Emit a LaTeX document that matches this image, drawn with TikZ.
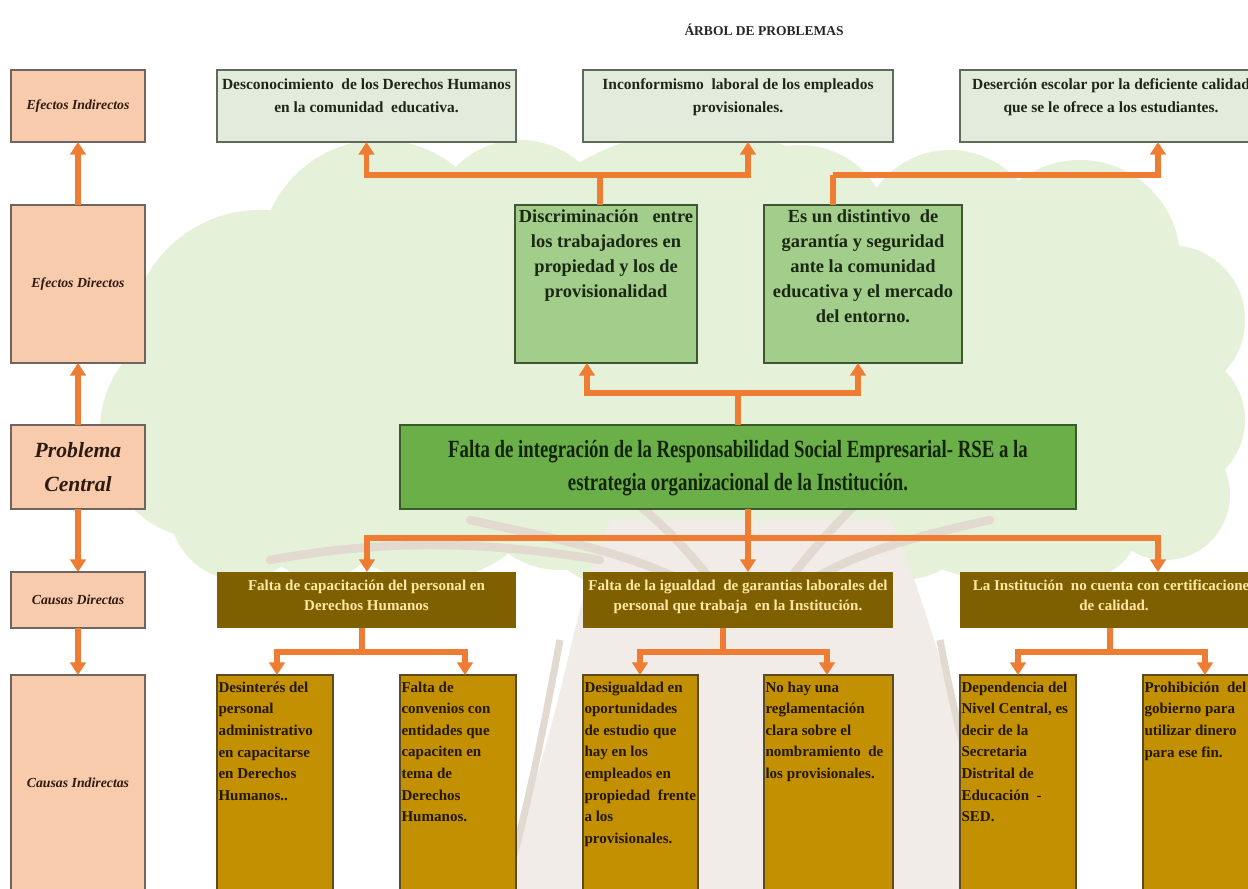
\documentclass[tikz,border=0pt]{standalone}
\usepackage{fontspec}
\setmainfont{Liberation Serif}
\newfontfamily\narrowserif[FakeStretch=0.76]{Liberation Serif}
\usetikzlibrary{arrows.meta}

% one drawing unit
\newlength\pxl
\setlength\pxl{0.025cm}
% fixed-size text cell: width, height, top padding, contents
\newcommand{\cell}[4]{\parbox[c][#2\pxl][t]{#1\pxl}{\vspace*{#3\pxl}#4}}
\newcommand{\ctrline}[1]{\makebox[\linewidth][c]{#1}}

\definecolor{sideFill}{HTML}{F8CBAD}
\definecolor{sideLine}{HTML}{6E6460}
\definecolor{sideText}{HTML}{2E1A10}
\definecolor{effFill}{HTML}{E3ECDC}
\definecolor{effLine}{HTML}{5F6A5A}
\definecolor{effText}{HTML}{1C261A}
\definecolor{dirFill}{HTML}{A3CD8A}
\definecolor{dirLine}{HTML}{3E5634}
\definecolor{dirText}{HTML}{1A2814}
\definecolor{coreFill}{HTML}{6BAF48}
\definecolor{coreLine}{HTML}{3A5A2A}
\definecolor{coreText}{HTML}{14240C}
\definecolor{causeFill}{HTML}{7F6000}
\definecolor{causeText}{HTML}{FFE8A6}
\definecolor{rootFill}{HTML}{C29000}
\definecolor{rootLine}{HTML}{5C4A20}
\definecolor{rootText}{HTML}{241800}
\definecolor{linkOrange}{HTML}{EE7D33}
\definecolor{leafA}{HTML}{E5F1D8}
\definecolor{barkA}{HTML}{F1ECE7}
\definecolor{barkB}{HTML}{E2D9D0}

\begin{document}
\begin{tikzpicture}[x=0.025cm, y=-0.025cm,
  every node/.style={inner sep=0pt, outer sep=0pt},
  sz/.style 2 args={minimum width=#1*\pxl, minimum height=#2*\pxl},
  sidebox/.style={anchor=north west, draw=sideLine, line width=0.8pt, fill=sideFill,
    text=sideText, align=center, font=\bfseries\itshape\fontsize{9.8}{12}\selectfont},
  effbox/.style={anchor=north west, draw=effLine, line width=0.9pt, fill=effFill, text=effText},
  dirbox/.style={anchor=north west, draw=dirLine, line width=0.9pt, fill=dirFill, text=dirText},
  corebox/.style={anchor=north west, draw=coreLine, line width=1pt, fill=coreFill, text=coreText},
  causebox/.style={anchor=north west, fill=causeFill, text=causeText},
  rootbox/.style={anchor=north west, draw=rootLine, line width=0.8pt, fill=rootFill, text=rootText},
  link/.style={draw=linkOrange, line width=4pt},
  linkarrow/.style={link, -{Triangle[width=11pt,length=9pt]}},
]
\useasboundingbox (0,0) rectangle (1248,888);
\clip (0,0) rectangle (1248,888);
\fill[white] (0,0) rectangle (1248,888);

% ---------- faint tree behind the boxes ----------
\fill[leafA] (260,340) circle (130) (210,430) circle (110) (240,510) circle (70)
  (380,260) circle (120) (520,230) circle (90) (660,240) circle (90)
  (800,235) circle (90) (950,240) circle (90) (1080,260) circle (100)
  (1170,320) circle (75) (1175,420) circle (70) (1165,495) circle (65)
  (700,370) circle (240) (430,450) circle (130) (1000,420) circle (160)
  (560,480) circle (90) (900,490) circle (90) (320,520) circle (60)
  (1080,520) circle (60);
\fill[barkA] (610,520) .. controls (570,600) and (560,760) .. (490,890)
  -- (1030,890) .. controls (960,760) and (930,600) .. (890,520) -- cycle;
\draw[barkB, line width=6pt, line cap=round]
  (740,620) .. controls (680,560) and (560,540) .. (470,520)
  (740,620) .. controls (700,560) and (660,520) .. (620,490)
  (760,620) .. controls (820,560) and (900,540) .. (990,520)
  (760,620) .. controls (800,560) and (840,520) .. (870,490)
  (600,560) .. controls (480,540) and (380,540) .. (270,560);
\draw[barkB, line width=5pt]
  (560,640) .. controls (545,720) and (530,800) .. (505,888)
  (940,640) .. controls (955,720) and (975,800) .. (1010,888);

% ---------- title ----------
\node[font=\bfseries\fontsize{9.6}{11}\selectfont, text=black!85] (title) at (764,30)
  {ÁRBOL DE PROBLEMAS};

% ---------- level labels ----------
\node[sidebox, sz={134}{72}]  (ei) at (11,70)  {Efectos Indirectos};
\node[sidebox, sz={134}{158}] (ed) at (11,205) {Efectos Directos};
\node[sidebox, sz={134}{84}, font=\bfseries\itshape\fontsize{15.4}{24}\selectfont]
  (pc) at (11,425) {Problema\\Central};
\node[sidebox, sz={134}{56}]  (cd) at (11,572) {Causas Directas};
\node[sidebox, sz={134}{216}] (ci) at (11,675) {Causas Indirectas};

\draw[linkarrow] (ed.north) -- (ei.south);
\draw[linkarrow] (pc.north) -- (ed.south);
\draw[linkarrow] (pc.south) -- (cd.north);
\draw[linkarrow] (cd.south) -- (ci.north);

% ---------- indirect effects ----------
\node[effbox] (e1) at (217,70) {\cell{299}{72}{9}{\fontsize{11}{16.4}\selectfont\bfseries
  \ctrline{Desconocimiento\ \ de los Derechos Humanos}\\
  \ctrline{en la comunidad\ \ educativa.}}};
\node[effbox] (e2) at (583,70) {\cell{310}{72}{9}{\fontsize{11}{16.4}\selectfont\bfseries
  \ctrline{Inconformismo\ \ laboral de los empleados}\\
  \ctrline{provisionales.}}};
\node[effbox] (e3) at (960,70) {\cell{302}{72}{9}{\fontsize{11}{16.4}\selectfont\bfseries
  \ctrline{Deserción escolar por la deficiente calidad}\\
  \ctrline{que se le ofrece a los estudiantes.}}};

% ---------- direct effects ----------
\node[dirbox] (d1) at (515,205) {\cell{182}{158}{5}{\fontsize{13.1}{17.8}\selectfont\bfseries
  \ctrline{Discriminación\ \ \ entre}\\
  \ctrline{los trabajadores en}\\
  \ctrline{propiedad y los de}\\
  \ctrline{provisionalidad}}};
\node[dirbox] (d2) at (764,205) {\cell{198}{158}{5}{\fontsize{13.1}{17.8}\selectfont\bfseries
  \ctrline{Es un distintivo\ \ de}\\
  \ctrline{garantía y seguridad}\\
  \ctrline{ante la comunidad}\\
  \ctrline{educativa y el mercado}\\
  \ctrline{del entorno.}}};

% ---------- central problem ----------
\node[corebox] (core) at (400,425) {\cell{676}{84}{15}{\narrowserif\bfseries\fontsize{17.6}{24}\selectfont
  \ctrline{Falta de integración de la Responsabilidad Social Empresarial- RSE a la}\\
  \ctrline{estrategia organizacional de la Institución.}}};

% ---------- direct causes ----------
\node[causebox] (c1) at (217,572) {\cell{299}{56}{8}{\fontsize{10.7}{14.2}\selectfont\bfseries
  \ctrline{Falta de capacitación del personal en}\\
  \ctrline{Derechos Humanos}}};
\node[causebox] (c2) at (583,572) {\cell{310}{56}{8}{\fontsize{10.7}{14.2}\selectfont\bfseries
  \ctrline{Falta de la igualdad\ \ de garantias laborales del}\\
  \ctrline{personal que trabaja\ \ en la Institución.}}};
\node[causebox] (c3) at (960,572) {\cell{308}{56}{8}{\fontsize{10.7}{14.2}\selectfont\bfseries
  \ctrline{La Institución\ \ no cuenta con certificaciones}\\
  \ctrline{de calidad.}}};

% ---------- indirect causes ----------
\newcommand{\rootstyle}{\fontsize{10.7}{15.3}\selectfont\bfseries\raggedright\leftskip=1.5\pxl}
\node[rootbox] (i1) at (217,675) {\cell{116}{216}{7}{\rootstyle
  Desinterés del\\ personal\\ administrativo\\ en capacitarse\\ en Derechos\\ Humanos..}};
\node[rootbox] (i2) at (400,675) {\cell{116}{216}{7}{\rootstyle
  Falta de\\ convenios con\\ entidades que\\ capaciten en\\ tema de\\ Derechos\\ Humanos.}};
\node[rootbox] (i3) at (583,675) {\cell{115}{216}{7}{\rootstyle
  Desigualdad en\\ oportunidades\\ de estudio que\\ hay en los\\ empleados en\\ propiedad\ \ frente\\ a los\\ provisionales.}};
\node[rootbox] (i4) at (764,675) {\cell{129}{216}{7}{\rootstyle
  No hay una\\ reglamentación\\ clara sobre el\\ nombramiento\ \ de\\ los provisionales.}};
\node[rootbox] (i5) at (960,675) {\cell{116}{216}{7}{\rootstyle
  Dependencia del\\ Nivel Central, es\\ decir de la\\ Secretaria\\ Distrital de\\ Educación\ \ -\\ SED.}};
\node[rootbox] (i6) at (1143,675) {\cell{119}{216}{7}{\rootstyle
  Prohibición\ \ del\\ gobierno para\\ utilizar dinero\\ para ese fin.}};

% ---------- connectors: central problem to effects ----------
\coordinate (jD)  at (738,393);
\coordinate (aD1) at (587,393);
\coordinate (aD2) at (858,393);
\draw[link] (core.north) -- (jD);
\draw[linkarrow] (jD) -- (aD1) -- (aD1 |- d1.south);
\draw[linkarrow] (jD) -- (aD2) -- (aD2 |- d2.south);

% ---------- connectors: direct effects to indirect effects ----------
\coordinate (jE1) at (600,175);
\coordinate (aE2) at (748,175);
\coordinate (jE2) at (833,175);
\coordinate (aE3) at (1158,175);
\draw[link] (d1.north -| jE1) -- (jE1);
\draw[linkarrow] (jE1) -| (e1.south);
\draw[linkarrow] (jE1) -- (aE2) -- (aE2 |- e2.south);
\draw[link] (d2.north -| jE2) -- (jE2);
\draw[linkarrow] (jE2) -- (aE3) -- (aE3 |- e3.south);

% ---------- connectors: central problem to direct causes ----------
\coordinate (aC1) at (367,538);
\coordinate (aC2) at (748,538);
\coordinate (aC3) at (1158,538);
\draw[link] ([xshift=-2pt]aC1) -- ([xshift=2pt]aC3);
\draw[linkarrow] (core.south -| aC2) -- (aC2 |- c2.north);
\draw[linkarrow] (aC1) -- (aC1 |- c1.north);
\draw[linkarrow] (aC3) -- (aC3 |- c3.north);

% ---------- connectors: direct causes to indirect causes ----------
\coordinate (jC1) at (362,652);
\coordinate (bI1) at (277,652);
\coordinate (bI2) at (465,652);
\draw[link] (c1.south -| jC1) -- (jC1);
\draw[linkarrow] (jC1) -- (bI1) -- (bI1 |- i1.north);
\draw[linkarrow] (jC1) -- (bI2) -- (bI2 |- i2.north);

\coordinate (jC2) at (723,652);
\coordinate (bI3) at (640,652);
\coordinate (bI4) at (827,652);
\draw[link] (c2.south -| jC2) -- (jC2);
\draw[linkarrow] (jC2) -- (bI3) -- (bI3 |- i3.north);
\draw[linkarrow] (jC2) -- (bI4) -- (bI4 |- i4.north);

\coordinate (jC3) at (1110,652);
\coordinate (bI5) at (1018,652);
\coordinate (bI6) at (1205,652);
\draw[link] (c3.south -| jC3) -- (jC3);
\draw[linkarrow] (jC3) -- (bI5) -- (bI5 |- i5.north);
\draw[linkarrow] (jC3) -- (bI6) -- (bI6 |- i6.north);
\end{tikzpicture}
\end{document}
